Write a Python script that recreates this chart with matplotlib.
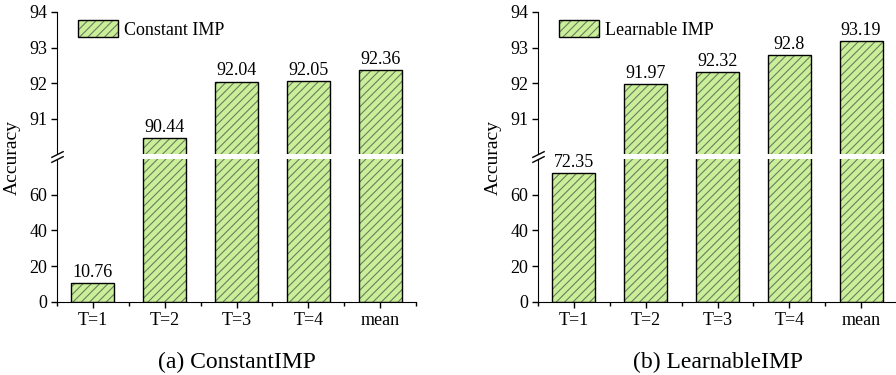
import matplotlib
matplotlib.use("Agg")
import matplotlib.pyplot as plt
from matplotlib.patches import Patch
import numpy as np

plt.rcParams['font.family'] = ['Liberation Serif', 'DejaVu Serif']
plt.rcParams['hatch.linewidth'] = 0.8

categories = ["T=1", "T=2", "T=3", "T=4", "mean"]
constant_vals = [10.76, 90.44, 92.04, 92.05, 92.36]
constant_labels = ["10.76", "90.44", "92.04", "92.05", "92.36"]
learnable_vals = [72.35, 91.97, 92.32, 92.8, 93.19]
learnable_labels = ["72.35", "91.97", "92.32", "92.8", "93.19"]
legend_names = ["Constant IMP", "Learnable IMP"]
captions = ["(a) ConstantIMP", "(b) LearnableIMP"]
upper_ticks = [91, 92, 93, 94]
lower_ticks = [0, 20, 40, 60]

FILL = "#c9ef98"
HATCH = "#6f7a60"
HATCH_PAT = '////'
W, H = 896, 375

fig = plt.figure(figsize=(W / 100, H / 100), dpi=100)

def px(x0, y0, x1, y1):
    return [x0 / W, 1 - y1 / H, (x1 - x0) / W, (y1 - y0) / H]

def panel(xl, xr, vals, labels, legname, caption):
    up = fig.add_axes(px(xl, 12, xr, 154))
    lo = fig.add_axes(px(xl, 159, xr, 302))
    x = np.arange(len(categories))
    for ax in (up, lo):
        ax.bar(x, vals, width=0.6, color=FILL, edgecolor='none', linewidth=0, zorder=2)
        ax.bar(x, vals, width=0.6, color='none', edgecolor=HATCH, hatch=HATCH_PAT, linewidth=0, zorder=3)
        ax.bar(x, vals, width=0.6, color='none', edgecolor='black', linewidth=1.0, zorder=4)
        ax.set_xlim(-0.5, len(categories) - 0.5)
        ax.spines['right'].set_visible(False)
        ax.spines['top'].set_visible(False)
        ax.tick_params(axis='y', direction='out', length=4, width=1, labelsize=13, pad=3)
    up.set_ylim(90, 94)
    lo.set_ylim(0, 80)
    up.set_yticks(upper_ticks)
    lo.set_yticks(lower_ticks)
    up.spines['bottom'].set_visible(False)
    up.set_xticks([])
    lo.set_xticks(x)
    lo.set_xticklabels(categories, fontsize=13)
    lo.set_xticks(np.arange(-0.5, len(categories), 1.0), minor=True)
    lo.tick_params(axis='x', which='major', direction='out', length=4, width=1, pad=3)
    lo.tick_params(axis='x', which='minor', direction='out', length=3, width=1)
    for xi, v, t in zip(x, vals, labels):
        ax = up if v >= 90 else lo
        ax.annotate(t, (xi, v), xytext=(0, 1.5), textcoords='offset points',
                    ha='center', va='bottom', fontsize=13, zorder=5)
    # break marks
    kw = dict(marker=[(-1, -0.5), (1, 0.5)], markersize=9, linestyle='none',
              color='k', mec='k', mew=1, clip_on=False, zorder=10)
    up.plot([0], [0], transform=up.transAxes, **kw)
    lo.plot([0], [1], transform=lo.transAxes, **kw)
    # legend
    h1 = Patch(facecolor=FILL, edgecolor=HATCH, hatch=HATCH_PAT, linewidth=0)
    h2 = Patch(facecolor='none', edgecolor='black', linewidth=1.0)
    up.legend([(h1, h2)], [legname], loc='upper left',
              bbox_to_anchor=(21 / (xr - xl), 1 - 8 / 142), borderaxespad=0,
              borderpad=0, frameon=False, fontsize=13, handlelength=2.2,
              handleheight=1.1, handletextpad=0.35)
    fig.text(((xl + xr) / 2) / W, 1 - 362 / H, caption, ha='center', va='center', fontsize=17)
    fig.text((xl - 45) / W, 1 - 157 / H, "Accuracy", rotation=90, ha='center', va='center', fontsize=14)

panel(57, 416, constant_vals, constant_labels, legend_names[0], captions[0])
panel(538, 897, learnable_vals, learnable_labels, legend_names[1], captions[1])

fig.savefig("out.png", dpi=100)
